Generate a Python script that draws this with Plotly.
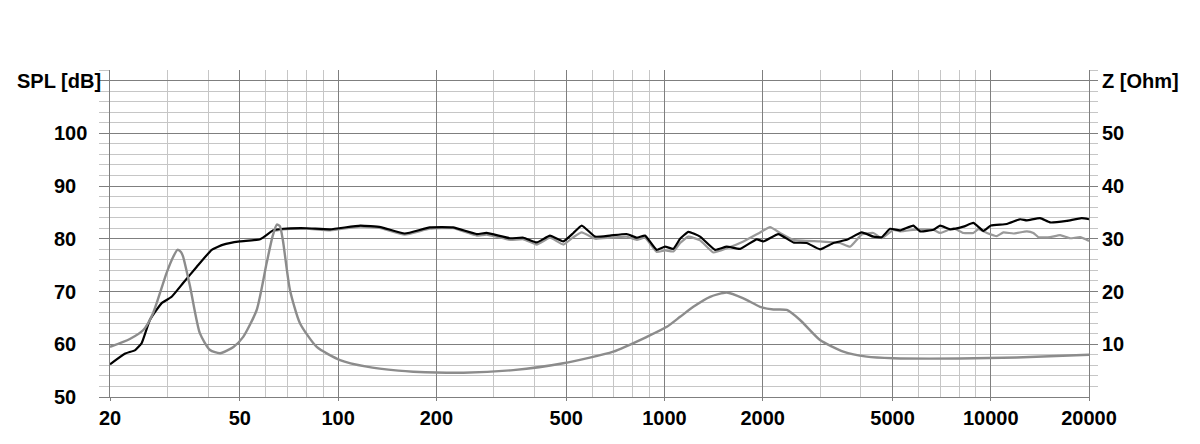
import numpy as np
import plotly.graph_objects as go

# ---- data ----
# SPL response (black), left axis [dB]
spl_freq = [20, 22.2, 23.9, 25, 26.5, 28.8, 30.9, 33.5, 36.9, 41, 44.5, 50, 57.7, 63.3, 67.9,
            80, 94.5, 117, 135, 160, 191, 225, 266, 285, 336, 370, 406, 446, 490, 526, 558,
            613, 681, 766, 823, 872, 947, 1004, 1065, 1117, 1184, 1286, 1430, 1552, 1706,
            1918, 2010, 2234, 2484, 2730, 2998, 3294, 3620, 4024, 4368, 4634, 4914, 5274,
            5792, 6072, 6674, 6996, 7504, 8244, 8846, 9496, 10010, 11198, 12302, 12898,
            14164, 15200, 17100, 19000, 20000]
spl_db = [56.2, 58.2, 58.9, 60.2, 64.6, 67.8, 69.0, 71.6, 74.7, 77.9, 78.9, 79.5, 79.9, 81.6, 81.9,
          82.0, 81.8, 82.5, 82.2, 81.0, 82.15, 82.15, 80.9, 81.1, 80.1, 80.2, 79.3, 80.6, 79.5, 81.1, 82.5,
          80.4, 80.6, 80.9, 80.2, 80.6, 77.9, 78.5, 78.1, 80.0, 81.3, 80.4, 77.9, 78.5, 78.1,
          79.9, 79.5, 80.9, 79.3, 79.2, 78.0, 79.2, 79.8, 81.2, 80.4, 80.3, 81.9, 81.6,
          82.5, 81.4, 81.7, 82.5, 81.8, 82.3, 83.0, 81.5, 82.5, 82.8, 83.7, 83.5,
          83.9, 83.1, 83.4, 83.9, 83.7]

# second SPL response (grey), left axis [dB]
spl2_freq = [63.3, 67.9, 80, 94.5, 117, 135, 160, 191, 225, 266, 285, 336, 370, 406, 446, 490,
             526, 558, 613, 681, 766, 823, 872, 947, 1004, 1065, 1117, 1184, 1286, 1412, 1552,
             1746, 1964, 2108, 2262, 2484, 2998, 3454, 3704, 4024, 4368, 4634, 5030, 5274,
             5792, 6072, 6674, 6996, 7682, 8244, 8846, 9162, 9726, 10434, 10934, 11734,
             12898, 13508, 13996, 15200, 16310, 17500, 18782, 20000]
spl2_db = [81.5, 81.8, 81.9, 81.6, 82.3, 82.0, 80.8, 81.9, 82.0, 80.6, 80.8, 79.8, 79.9, 78.9, 80.2, 78.9,
           80.3, 81.2, 80.0, 80.2, 80.4, 79.8, 80.2, 77.5, 77.8, 77.6, 79.2, 80.4, 79.7, 77.4, 78.2,
           79.5, 81.2, 82.2, 81.1, 79.8, 79.5, 79.2, 78.5, 80.8, 81.1, 80.1, 81.7, 81.4,
           81.7, 81.8, 81.7, 81.1, 82.0, 81.1, 81.1, 81.8, 81.1, 80.5, 81.2, 81.0,
           81.4, 81.1, 80.3, 80.3, 80.7, 80.1, 80.3, 79.6]

# impedance (grey), right axis [Ohm]
z_freq = [20, 23, 25.3, 27.1, 29.8, 31.2, 32.2, 33, 33.5, 35.2, 37.7, 40.5, 43.5, 47.8, 51.2,
          56.3, 60.4, 63, 64.9, 66.3, 67.7, 71.2, 76.4, 86, 101.4, 122.4, 153, 170, 242, 344,
          490, 697, 883, 1017, 1117, 1226, 1380, 1552, 1746, 1964, 2157, 2371, 2604, 2998,
          3534, 4170, 5030, 8054, 12000, 20000]
z_ohm = [9.5, 11.0, 12.7, 15.9, 23.5, 26.5, 27.9, 27.5, 26.6, 20.9, 12.1, 8.9, 8.3, 9.5, 11.4,
         16.5, 25.4, 30.5, 32.7, 32.4, 29.8, 20.3, 14.0, 9.5, 7.0, 5.75, 5.0, 4.8, 4.6, 5.1,
         6.4, 8.6, 11.4, 13.3, 15.2, 17.1, 19.0, 19.8, 18.7, 17.1, 16.6, 16.5, 14.6, 10.8,
         8.6, 7.65, 7.35, 7.3, 7.5, 8.0]

# axis ticks
x_major = [20, 50, 100, 200, 500, 1000, 2000, 5000, 10000, 20000]
x_major_text = ['20', '50', '100', '200', '500', '1000', '2000', '5000', '10000', '20000']
x_minor = [30, 40, 60, 70, 80, 90, 300, 400, 600, 700, 800, 900,
           3000, 4000, 6000, 7000, 8000, 9000]
y_major = [50, 60, 70, 80, 90, 100, 110]
y_major_text = ['50', '60', '70', '80', '90', '100', 'SPL [dB]']
y_minor = [v for v in range(52, 113, 2) if v % 10 != 0]
z_major = [10, 20, 30, 40, 50, 60]
z_major_text = ['10', '20', '30', '40', '50', 'Z [Ohm]']
z_minor = [v for v in range(2, 63, 2) if v % 10 != 0]

MAJOR = '#7f7f7f'
MINOR = '#c6c6c6'
FONT = dict(family='Liberation Sans, Arial', size=20, color='black', weight='bold')

fig = go.Figure()

fig.add_trace(go.Scatter(x=z_freq, y=z_ohm, yaxis='y2', mode='lines',
                         line=dict(color='#8c8c8c', width=2.4, shape='spline', smoothing=0.6)))
fig.add_trace(go.Scatter(x=spl2_freq, y=spl2_db, mode='lines',
                         line=dict(color='#999999', width=2.2, shape='spline', smoothing=0.4)))
fig.add_trace(go.Scatter(x=spl_freq, y=spl_db, mode='lines',
                         line=dict(color='black', width=2.2, shape='spline', smoothing=0.4)))

# left tick labels are left-aligned in the original, so place them as annotations
for v, t in zip(y_major, y_major_text):
    fig.add_annotation(x=-0.097 if t.startswith('SPL') else -0.0592, xref='paper', xanchor='left',
                       y=v, yref='y', yanchor='middle', text=t, showarrow=False, font=FONT)

# page body adds an 8px offset, margins compensate for it
fig.update_layout(
    width=1200, height=444,
    margin=dict(l=102, r=119, t=62, b=55),
    plot_bgcolor='white', paper_bgcolor='white',
    showlegend=False,
    xaxis=dict(type='log', range=[np.log10(20), np.log10(20000)],
               tickvals=x_major, ticktext=x_major_text, tickfont=FONT,
               ticks='outside', ticklen=3, tickcolor=MAJOR,
               showgrid=True, gridcolor=MAJOR, gridwidth=1,
               showline=True, linecolor=MAJOR, zeroline=False,
               minor=dict(tickvals=x_minor, showgrid=True, gridcolor=MINOR, gridwidth=1, ticks='')),
    yaxis=dict(range=[50, 112], tickvals=y_major, showticklabels=False,
               ticks='outside', ticklen=10, tickcolor=MAJOR,
               showgrid=True, gridcolor=MAJOR, gridwidth=1,
               showline=True, linecolor=MAJOR, zeroline=False,
               minor=dict(tickvals=y_minor, showgrid=True, gridcolor=MINOR, gridwidth=1,
                          ticks='outside', ticklen=10, tickcolor=MINOR)),
    yaxis2=dict(range=[0, 62], overlaying='y', side='right',
                tickvals=z_major, ticktext=z_major_text, tickfont=FONT,
                ticks='outside', ticklen=8, tickcolor=MAJOR,
                showgrid=False, showline=True, linecolor=MAJOR, zeroline=False,
                minor=dict(tickvals=z_minor, ticks='outside', ticklen=8, tickcolor=MINOR)),
)

fig.write_html("out.html")
